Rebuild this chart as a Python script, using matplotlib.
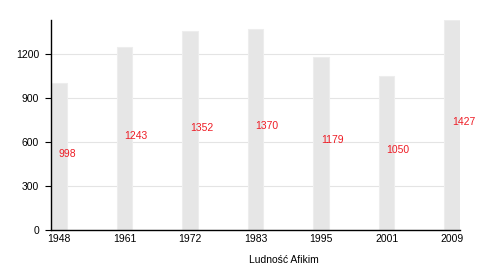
import matplotlib
matplotlib.use('Agg')
import matplotlib.pyplot as plt
from matplotlib import font_manager
import numpy as np

# dane
years = ['1948', '1961', '1972', '1983', '1995', '2001', '2009']
population = [998, 1243, 1352, 1370, 1179, 1050, 1427]

# zwykła Liberation Sans - po ścieżce pliku
path = None
for f in font_manager.fontManager.ttflist:
    if f.fname.endswith('LiberationSans-Regular.ttf'):
        path = f.fname
        break
if path:
    fp = font_manager.FontProperties(fname=path, size=7.5)
else:
    fp = font_manager.FontProperties(family='DejaVu Sans', size=7.5)

fig = plt.figure(figsize=(5, 2.7), dpi=100)
ax = fig.add_axes([0.102, 0.148, 0.818, 0.778])

x = np.arange(len(years))
w = 0.24
ax.bar(x, population, width=w, color='#e6e6e6', edgecolor='#ededed', linewidth=0.8, zorder=2)

for xi, v in zip(x, population):
    ax.text(xi, v / 2, str(v), color='#ee1c25', fontproperties=fp, ha='left', va='baseline', zorder=3)

ax.set_xlim(-w / 2, len(years) - 1 + w / 2)
ax.set_ylim(0, 1430)
ax.set_yticks([0, 300, 600, 900, 1200])
ax.set_xticks(x)
ax.set_xticklabels(years)
ax.tick_params(axis='x', length=0, pad=3)
ax.tick_params(axis='y', length=4.5, width=0.8, pad=4)
for lab in ax.get_xticklabels() + ax.get_yticklabels():
    lab.set_fontproperties(fp)
ax.grid(axis='y', color='#e4e4e4', linewidth=0.8, zorder=0)

for s in ['top', 'right']:
    ax.spines[s].set_visible(False)
ax.spines['left'].set_linewidth(1)
ax.spines['bottom'].set_linewidth(1)

ax.set_xlabel('Ludność Afikim', fontproperties=fp)
ax.xaxis.set_label_coords(0.57, -0.12)

plt.savefig('out.png', dpi=100)
plt.close()
